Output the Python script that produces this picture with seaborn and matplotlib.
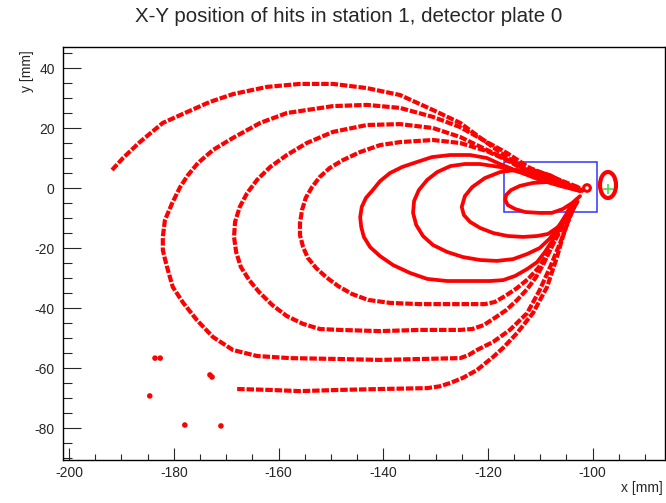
import numpy as np
import pandas as pd
import matplotlib
matplotlib.use("Agg")
import matplotlib.pyplot as plt
import seaborn as sns
from matplotlib.patches import Ellipse, Rectangle
from matplotlib.ticker import MultipleLocator

# ---------------- data (mm) ----------------
a_top_x = [-191.8, -189.7, -186.5, -182.1, -177.5, -173.1, -168.7, -162.2, -155.9, -149.6,
           -143.1, -136.8, -130.5, -125.3, -120.9, -116.4, -112.0, -106.2, -102.4]
a_top_y = [6.1, 10.1, 15.4, 21.8, 25.4, 28.8, 31.4, 33.8, 34.8, 34.8,
           33.4, 31.1, 26.1, 21.8, 16.1, 10.4, 5.4, 1.8, 0.1]

a_bot_x = [-167.9, -161.6, -155.9, -148.3, -140.6, -131.6, -129.2, -127.2, -124.8, -122.1,
           -119.0, -117.1, -114.4, -111.4, -108.7, -106.8, -105.7, -104.3, -102.8]
a_bot_y = [-66.9, -67.2, -67.6, -67.2, -66.9, -66.6, -66.0, -64.9, -63.2, -60.6,
           -56.2, -53.2, -48.2, -41.6, -32.9, -22.9, -16.2, -8.9, -3.9]

b_x = [-102.8, -107.2, -112.0, -116.4, -120.9, -125.3, -130.5, -136.8, -143.1, -149.6,
       -153.4, -158.4, -163.5, -168.7, -172.5, -175.4, -177.3, -178.8, -180.3, -181.7,
       -182.1, -182.1, -181.7, -181.3, -180.2, -178.2, -175.6, -172.5, -168.7, -164.1,
       -157.8, -148.3, -140.6, -133.0, -125.3, -123.7, -122.1, -119.0, -115.8, -112.5,
       -110.1, -108.1, -106.2, -104.7, -103.4]
b_y = [0.4, 3.4, 6.8, 11.8, 16.1, 20.4, 23.8, 26.8, 27.8, 27.4,
       26.4, 25.1, 21.8, 16.8, 12.8, 8.4, 4.4, 0.4, -4.9, -10.6,
       -16.2, -20.6, -23.5, -26.2, -32.9, -38.2, -43.9, -49.6, -53.9, -55.9,
       -56.6, -56.9, -57.2, -56.9, -56.6, -55.6, -53.9, -51.2, -47.2, -41.6,
       -33.9, -26.2, -18.2, -11.2, -5.6]

c_x = [-102.8, -107.2, -112.0, -115.8, -120.2, -125.3, -130.5, -136.8, -143.1, -149.6,
       -154.6, -158.4, -161.6, -164.1, -166.0, -167.4, -168.3, -168.5, -168.1, -167.2,
       -165.6, -163.7, -161.2, -158.4, -155.3, -152.1, -148.3, -140.6, -133.0, -125.3,
       -123.0, -120.8, -118.7, -116.5, -114.4, -112.5, -110.8, -109.3, -108.0, -106.6,
       -105.3, -103.9]
c_y = [-0.2, 2.4, 5.8, 9.1, 12.8, 17.1, 20.1, 21.4, 21.1, 18.8,
       15.1, 11.1, 7.1, 2.8, -1.6, -6.2, -11.2, -16.2, -21.2, -26.2,
       -30.6, -34.6, -38.9, -42.6, -45.2, -46.9, -47.2, -47.6, -47.2, -47.2,
       -46.9, -45.6, -43.2, -40.6, -37.2, -33.6, -29.6, -24.9, -20.2, -15.2,
       -9.9, -4.9]

d_x = [-102.4, -106.8, -112.0, -116.4, -120.2, -125.3, -130.5, -136.8, -140.6, -144.4,
       -147.7, -150.2, -152.1, -153.6, -154.8, -155.5, -155.9, -155.9, -155.3, -154.4,
       -152.8, -150.9, -148.6, -146.0, -142.9, -138.7, -133.0, -125.3, -120.6, -118.7,
       -116.7, -114.4, -112.3, -110.4, -108.7, -107.4, -106.0, -104.9, -103.6]
d_y = [-0.6, 1.8, 5.1, 9.4, 12.4, 15.1, 16.1, 15.4, 14.4, 12.1,
       9.4, 6.8, 3.8, 0.4, -3.2, -7.2, -11.6, -15.6, -19.6, -23.2,
       -26.6, -29.6, -32.6, -35.2, -37.2, -38.2, -38.6, -38.6, -38.6, -37.9,
       -35.9, -33.2, -30.2, -26.6, -22.2, -17.9, -13.6, -9.6, -5.6]

e_x = [-102.4, -106.2, -110.1, -113.9, -117.7, -120.2, -123.4, -127.2, -130.7, -133.5,
       -136.4, -138.7, -140.6, -142.0, -143.3, -144.1, -144.4, -144.2, -143.7, -142.5,
       -140.6, -138.1, -134.9, -131.6, -127.8, -123.4, -119.6, -117.1, -114.8, -112.5,
       -110.6, -109.1, -107.6, -106.0, -104.7, -103.4]
e_y = [-0.9, 0.8, 2.8, 5.4, 8.1, 10.1, 11.1, 11.1, 10.4, 8.8,
       7.1, 5.1, 2.4, -0.6, -3.2, -6.2, -9.6, -12.9, -16.2, -19.6,
       -22.6, -25.6, -28.2, -30.2, -30.9, -30.9, -30.9, -30.6, -29.2, -26.9,
       -24.6, -21.2, -17.2, -12.9, -8.9, -5.2]

f_x = [-102.4, -106.2, -110.1, -113.9, -117.7, -121.5, -124.4, -127.2, -129.7, -131.6,
       -133.2, -134.1, -134.3, -133.7, -132.4, -130.5, -127.8, -124.8, -121.5, -118.3,
       -115.2, -112.5, -110.1, -108.1, -106.2, -104.5, -103.0]
f_y = [-0.9, 1.1, 3.4, 5.4, 7.1, 8.1, 8.1, 7.4, 5.4, 2.8,
       -0.6, -4.2, -8.2, -12.2, -15.9, -18.9, -21.2, -22.9, -23.9, -24.2,
       -23.6, -21.9, -19.9, -16.6, -11.9, -7.2, -3.6]

g_x = [-102.0, -105.3, -108.1, -111.4, -114.8, -117.7, -120.6, -123.0, -124.4, -125.0,
       -124.6, -123.4, -121.5, -119.0, -116.2, -113.3, -110.6, -108.5, -106.6, -104.7,
       -103.0]
g_y = [-0.9, 1.8, 4.4, 6.1, 6.1, 5.4, 3.4, 0.4, -2.6, -6.2,
       -8.9, -11.2, -13.2, -14.9, -15.9, -16.2, -15.9, -15.2, -12.9, -9.2,
       -4.9]

h_x = [-101.8, -105.3, -108.5, -111.4, -113.9, -115.6, -116.5, -116.7, -116.2, -114.8,
       -112.9, -110.1, -107.8, -105.7, -103.9, -102.4]
h_y = [-0.6, 1.1, 2.1, 1.8, 0.8, -0.6, -2.2, -3.9, -5.6, -6.9,
       -7.9, -8.2, -8.2, -6.9, -4.9, -2.6]

stray_x = [-183.6, -182.6, -173.1, -172.7, -184.6, -177.9, -171.0]
stray_y = [-56.6, -56.6, -62.2, -62.9, -69.2, -78.9, -79.2]

tip_loop = (-101.07, 0.1, 1.3, 2.2)       # centre x, centre y, width, height
outer_ring = (-97.06, 1.1, 3.06, 8.67)    # centre x, centre y, width, height
marker_pos = (-97.06, -0.23)
box = (-116.87, -8.0, -99.10, 8.87)       # x0, y0, x1, y1

title = "X-Y position of hits in station 1, detector plate 0"
xlabel = "x [mm]"
ylabel = "y [mm]"

# ---------------- build table ----------------
curves = {
    "A_top": (a_top_x, a_top_y, "sparse"), "A_bottom": (a_bot_x, a_bot_y, "sparse"),
    "B": (b_x, b_y, "sparse"), "C": (c_x, c_y, "sparse"), "D": (d_x, d_y, "sparse"),
    "E": (e_x, e_y, "dense"), "F": (f_x, f_y, "dense"), "G": (g_x, g_y, "dense"),
    "H": (h_x, h_y, "dense"),
}
frames = []
for name, (xs, ys, kind) in curves.items():
    frames.append(pd.DataFrame({"x": xs, "y": ys, "curve": name, "kind": kind}))
df = pd.concat(frames, ignore_index=True)

# ---------------- plot ----------------
sns.set_style("white")
plt.rcParams["font.family"] = ["Liberation Sans", "DejaVu Sans"]
plt.rcParams["axes.unicode_minus"] = False

fig = plt.figure(figsize=(6.66, 5.03), dpi=100)
ax = fig.add_axes([63 / 666, 1 - 460 / 503, (665 - 63) / 666, (460 - 47) / 503])

sns.lineplot(data=df, x="x", y="y", units="curve", style="kind", size="kind",
             estimator=None, sort=False,
             dashes={"sparse": (1.8, 0.45), "dense": ""},
             sizes={"sparse": 3.0, "dense": 2.7},
             color="red", ax=ax, legend=False)
sns.scatterplot(x=stray_x, y=stray_y, color="red", s=16, edgecolor="none", ax=ax)

cx, cy, w, h = tip_loop
ax.add_patch(Ellipse((cx, cy), w, h, fill=False, edgecolor="red", lw=2.2))
cx, cy, w, h = outer_ring
ax.add_patch(Ellipse((cx, cy), w, h, fill=False, edgecolor="red", lw=3.0))
ax.plot([marker_pos[0]], [marker_pos[1]], marker="+", color="#44dd44", ms=7, mew=1.2)
x0, y0, x1, y1 = box
ax.add_patch(Rectangle((x0, y0), x1 - x0, y1 - y0, fill=False, edgecolor="#3333ff", lw=1.1))

ax.set_xlim(-201.17, -86.17)
ax.set_ylim(-90.56, 47.1)
ax.set_xticks(np.arange(-200, -85, 20))
ax.set_yticks(np.arange(-80, 45, 20))
ax.xaxis.set_minor_locator(MultipleLocator(5))
ax.yaxis.set_minor_locator(MultipleLocator(5))
ax.tick_params(axis="x", which="major", direction="in", length=8.6, width=0.8,
               labelsize=10, pad=4, top=False, bottom=True)
ax.tick_params(axis="x", which="minor", direction="in", length=4.3, width=0.8, top=False, bottom=True)
ax.tick_params(axis="y", which="major", direction="in", length=13, width=0.8,
               labelsize=10, pad=6, right=False, left=True)
ax.tick_params(axis="y", which="minor", direction="in", length=6.5, width=0.8, right=False, left=True)
for s in ax.spines.values():
    s.set_visible(True)
    s.set_color("black")
    s.set_linewidth(1.0)
ax.set_xlabel("")
ax.set_ylabel("")

fig.text(349 / 666, 1 - 16 / 503, title, ha="center", va="center", fontsize=14.8)
fig.text(663 / 666, 1 - 488 / 503, xlabel, ha="right", va="center", fontsize=10)
fig.text(27 / 666, 1 - 50 / 503, ylabel, ha="center", va="top", rotation=90, fontsize=10)

fig.savefig("out.png", dpi=100)
